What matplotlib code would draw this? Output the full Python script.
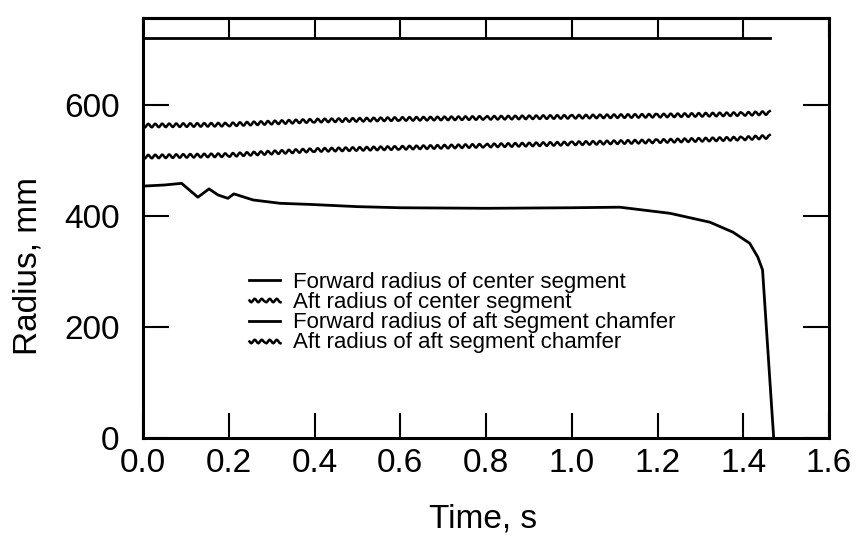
import matplotlib
matplotlib.use("Agg")
import matplotlib.pyplot as plt

plt.rcParams['font.family'] = ['Liberation Sans', 'DejaVu Sans']

# ---- data ----
t_fwd_center = [0.0, 0.05, 0.09, 0.128, 0.154, 0.175, 0.198, 0.212, 0.257, 0.32,
                0.39, 0.5, 0.6, 0.8, 1.0, 1.112, 1.229, 1.322, 1.376, 1.415,
                1.434, 1.445, 1.471]
r_fwd_center = [454, 456, 459, 434, 449, 438, 432, 440, 429, 423,
                421, 417, 415, 414, 415, 416, 405, 389, 371, 351,
                326, 303, 0]

t_aft_center = [0.0, 0.2, 0.4, 0.6, 0.8, 1.0, 1.2, 1.4, 1.462]
r_aft_center = [507, 510, 519, 523, 527, 531, 535, 540, 543]

t_fwd_chamfer = [0.0, 1.462]
r_fwd_chamfer = [721, 721]

t_aft_chamfer = [0.0, 0.2, 0.4, 0.6, 0.8, 1.0, 1.2, 1.4, 1.462]
r_aft_chamfer = [563, 565, 572, 575, 577, 579, 581, 584, 586]

labels = ["Forward radius of center segment",
          "Aft radius of center segment",
          "Forward radius of aft segment chamfer",
          "Aft radius of aft segment chamfer"]

x_ticks = [0.0, 0.2, 0.4, 0.6, 0.8, 1.0, 1.2, 1.4, 1.6]
x_ticklabels = ["0.0", "0.2", "0.4", "0.6", "0.8", "1.0", "1.2", "1.4", "1.6"]
y_ticks = [0, 200, 400, 600]
y_ticklabels = ["0", "200", "400", "600"]

# ---- figure ----
fig = plt.figure(figsize=(8.6, 5.44), dpi=100)
ax = fig.add_axes([143 / 860, 1 - 438 / 544, (829 - 143) / 860, (438 - 18) / 544])

lw = 2.0
l1, = ax.plot(t_fwd_center, r_fwd_center, color='black', lw=lw, label=labels[0])
l2, = ax.plot(t_aft_center, r_aft_center, color='black', lw=1.8, label=labels[1])
l3, = ax.plot(t_fwd_chamfer, r_fwd_chamfer, color='black', lw=lw, label=labels[2])
l4, = ax.plot(t_aft_chamfer, r_aft_chamfer, color='black', lw=1.8, label=labels[3])
for ln in (l2, l4):
    ln.set_sketch_params(scale=1.8, length=7.0, randomness=1.0)

ax.set_xlim(0, 1.6)
ax.set_ylim(0, 757)

ax.set_xticks(x_ticks)
ax.set_xticklabels(x_ticklabels)
ax.set_yticks(y_ticks)
ax.set_yticklabels(y_ticklabels)

for s in ax.spines.values():
    s.set_linewidth(2.2)

ax.tick_params(axis='x', direction='in', length=18, width=1.5, bottom=True, top=False,
               labelsize=24, pad=7)
ax.tick_params(axis='y', direction='in', length=19, width=1.5, left=True, right=True,
               labelsize=24, pad=17)

sec = ax.secondary_xaxis('top')
sec.set_xticks(x_ticks)
sec.tick_params(direction='in', length=14.5, width=1.5, labeltop=False)
sec.spines['top'].set_linewidth(2.2)

ax.set_xlabel("Time, s", fontsize=24)
ax.xaxis.set_label_coords(0.495, -0.155)
ax.set_ylabel("Radius, mm", fontsize=24)
ax.yaxis.set_label_coords(-0.145, 0.41)

ax.legend(loc='upper left', bbox_to_anchor=(0.155, 0.395), frameon=False,
          fontsize=16, handlelength=1.4, handletextpad=0.55, labelspacing=-0.04,
          borderpad=0, borderaxespad=0)

fig.savefig("out.png", dpi=100)
